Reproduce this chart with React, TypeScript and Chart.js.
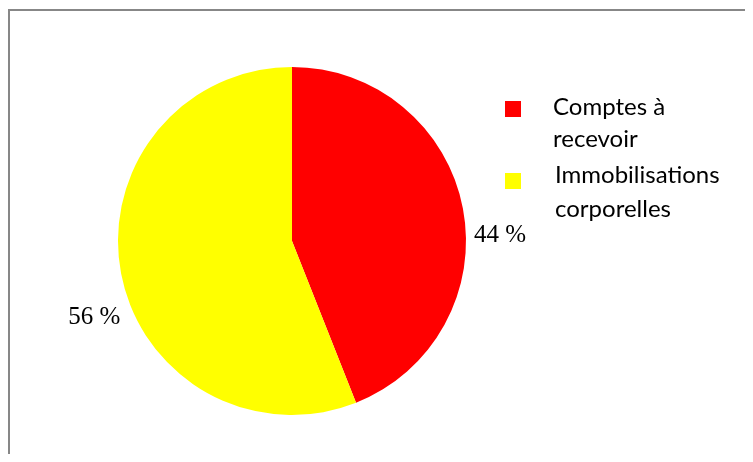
import React, { useEffect, useRef } from "react";
import { Chart, registerables } from "chart.js";

Chart.register(...registerables);

const categories: string[][] = [["Comptes à", "recevoir"], ["Immobilisations", "corporelles"]];
const values: number[] = [44, 56];
const colors: string[] = ["#ff0000", "#ffff00"];

const frameAndLabels = {
  id: "frameAndLabels",
  beforeDraw(chart: any) {
    const ctx = chart.ctx;
    ctx.save();
    ctx.fillStyle = "#ffffff";
    ctx.fillRect(0, 0, chart.width, chart.height);
    ctx.fillStyle = "#878787";
    ctx.fillRect(0, 1, chart.width, 2);
    ctx.fillRect(0, 1, 2, chart.height);
    ctx.restore();
  },
  afterDraw(chart: any, _args: any, opts: any) {
    const ctx = chart.ctx;
    const meta = chart.getDatasetMeta(0);
    ctx.save();
    // data labels
    ctx.font = opts.labelFont;
    ctx.fillStyle = "#000000";
    ctx.textAlign = "center";
    ctx.textBaseline = "middle";
    meta.data.forEach((arc: any, i: number) => {
      const p = opts.placement[i];
      const mid = (arc.startAngle + arc.endAngle) / 2 + (p.dAngle * Math.PI) / 180;
      const r = arc.outerRadius + p.dR;
      const x = arc.x + Math.cos(mid) * r;
      const y = arc.y + Math.sin(mid) * r;
      ctx.fillText(`${chart.data.datasets[0].data[i]} %`, x, y);
    });
    // legend
    const lg = opts.legend;
    ctx.font = lg.font;
    ctx.textAlign = "left";
    ctx.textBaseline = "alphabetic";
    categories.forEach((lines, i) => {
      const it = lg.items[i];
      ctx.fillStyle = colors[i];
      ctx.fillRect(it.boxX, it.boxY, 16, 16);
      ctx.fillStyle = "#000000";
      lines.forEach((t, j) => ctx.fillText(t, it.textX, it.baseY + j * lg.lineH[i]));
    });
    ctx.restore();
  },
};

export default function App() {
  const ref = useRef<HTMLCanvasElement>(null);
  useEffect(() => {
    if (!ref.current) return;
    const chart = new Chart(ref.current, {
      type: "pie",
      data: {
        labels: categories.map((l) => l.join(" ")),
        datasets: [{ data: values, backgroundColor: colors, borderWidth: 0 }],
      },
      options: {
        responsive: false,
        animation: false,
        layout: { padding: { left: 110, top: 59, right: 279, bottom: 39 } },
        plugins: {
          legend: { display: false },
          tooltip: { enabled: false },
          frameAndLabels: {
            labelFont: "25px 'Liberation Serif'",
            placement: [
              { dAngle: 9.4, dR: 34 },
              { dAngle: -10.3, dR: 38 },
            ],
            legend: {
              font: "24px Lato",
              lineH: [32, 34],
              items: [
                { boxX: 497, boxY: 93, textX: 545, baseY: 107 },
                { boxX: 497, boxY: 165, textX: 547, baseY: 175 },
              ],
            },
          },
        } as any,
      },
      plugins: [frameAndLabels],
    });
    return () => chart.destroy();
  }, []);
  return <canvas ref={ref} width={737} height={446} style={{ display: "block" }} />;
}
